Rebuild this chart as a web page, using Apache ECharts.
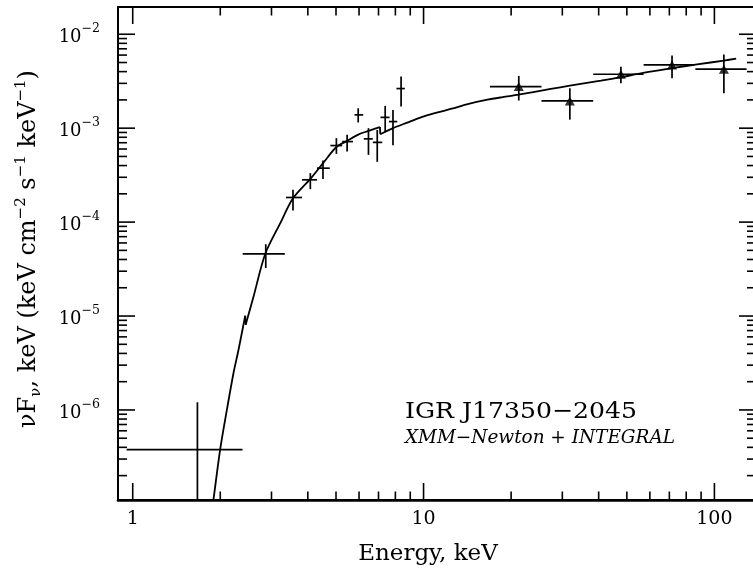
<!DOCTYPE html>
<html><head><meta charset="utf-8">
<script src="https://cdn.jsdelivr.net/npm/echarts@6/dist/echarts.min.js"></script>
<style>html,body{margin:0;padding:0;background:#fff}#c{width:753px;height:569px}</style>
</head><body><div id="c"></div>
<script>
// ---- XMM-Newton spectral points (energy keV, nuFnu, bin edges, error limits)
const xmmE   = [1.669, 2.867, 3.557, 4.08, 4.51, 5.015, 5.46, 5.96, 6.465, 6.93, 7.38, 7.85, 8.37];
const xmmElo = [0.953, 2.388, 3.365, 3.82, 4.30, 4.78, 5.25, 5.79, 6.23, 6.69, 7.11, 7.60, 8.07];
const xmmEhi = [2.385, 3.334, 3.82, 4.30, 4.76, 5.25, 5.72, 6.20, 6.69, 7.21, 7.64, 8.12, 8.62];
const xmmF   = [3.78e-7, 4.60e-5, 1.828e-4, 2.82e-4, 3.75e-4, 6.53e-4, 7.20e-4, 1.385e-3, 7.69e-4, 7.06e-4, 1.303e-3, 1.175e-3, 2.64e-3];
const xmmFlo = [1e-9, 3.24e-5, 1.33e-4, 2.24e-4, 2.87e-4, 5.33e-4, 5.64e-4, 1.15e-3, 5.2e-4, 4.38e-4, 9.02e-4, 6.59e-4, 1.70e-3];
const xmmFhi = [1.205e-6, 5.81e-5, 2.21e-4, 3.32e-4, 4.52e-4, 7.83e-4, 8.49e-4, 1.63e-3, 1.0e-3, 9.59e-4, 1.726e-3, 1.566e-3, 3.54e-3];

// ---- INTEGRAL spectral points
const intE   = [21.25, 31.84, 47.7, 71.5, 107.8];
const intElo = [16.92, 25.44, 38.3, 57.1, 86.0];
const intEhi = [25.44, 38.3, 57.1, 85.3, 129];
const intF   = [2.77e-3, 1.95e-3, 3.75e-3, 4.71e-3, 4.25e-3];
const intFlo = [1.97e-3, 1.233e-3, 3.01e-3, 3.40e-3, 2.36e-3];
const intFhi = [3.60e-3, 2.66e-3, 4.52e-3, 5.95e-3, 6.1e-3];

// ---- model curve (absorption edges near 2.44 and 7.1 keV)
const modelE = [1.855, 1.895, 1.998, 2.108, 2.221, 2.311, 2.437, 2.445, 2.603, 2.856, 3.217, 3.557, 4.081, 4.535, 5.015, 5.461, 5.985, 6.397, 7.08, 7.10, 7.82, 8.788, 9.843, 11.09, 12.49, 14.29, 16.58, 18.72, 21.2, 27.38, 31.84, 40.7, 47.7, 56.8, 71.5, 87.2, 107.8, 118.8];
const modelF = [6.8e-8, 1.11e-7, 3.78e-7, 1.007e-6, 2.475e-6, 4.38e-6, 1.007e-5, 8.08e-6, 1.616e-5, 4.60e-5, 9.76e-5, 1.791e-4, 2.888e-4, 4.326e-4, 6.30e-4, 7.33e-4, 8.59e-4, 9.25e-4, 1.025e-3, 8.63e-4, 9.95e-4, 1.147e-3, 1.312e-3, 1.462e-3, 1.612e-3, 1.813e-3, 2.01e-3, 2.142e-3, 2.272e-3, 2.619e-3, 2.832e-3, 3.201e-3, 3.488e-3, 3.88e-3, 4.36e-3, 4.77e-3, 5.25e-3, 5.49e-3];

// ---- axes and ticks
const xRange = [0.89, 139];
const yRange = [1.1e-7, 1.95e-2];
const xMajorTicks = [1, 10, 100];
const xMinorTicks = [2, 3, 4, 5, 6, 7, 8, 9, 20, 30, 40, 50, 60, 70, 80, 90];
const yMajorTicks = [1e-6, 1e-5, 1e-4, 1e-3, 1e-2];
const yMinorTicks = [2e-7,3e-7,4e-7,5e-7,6e-7,7e-7,8e-7,9e-7, 2e-6,3e-6,4e-6,5e-6,6e-6,7e-6,8e-6,9e-6, 2e-5,3e-5,4e-5,5e-5,6e-5,7e-5,8e-5,9e-5, 2e-4,3e-4,4e-4,5e-4,6e-4,7e-4,8e-4,9e-4, 2e-3,3e-3,4e-3,5e-3,6e-3,7e-3,8e-3,9e-3];
const xTickLabels = {1: '1', 10: '10', 100: '100'};
const yTickExponents = {'-6': '−6', '-5': '−5', '-4': '−4', '-3': '−3', '-2': '−2'};

const texts = {
  xName: 'Energy, keV',
  yName: 'νF{sub|ν}, keV (keV cm{sup|−2} s{sup|−1} keV{sup|−1})',
  source: 'IGR J17350−2045',
  instruments: 'XMM−Newton + INTEGRAL'
};

const FONT = '"DejaVu Serif", "Liberation Serif", serif';
const INK = '#000';

function measure(font, text) {
  const ctx = document.createElement('canvas').getContext('2d');
  ctx.font = font;
  return ctx.measureText(text).width;
}

function xTickRender(len) {
  return function (params, api) {
    const p = api.coord([api.value(0), api.value(1)]);
    const cs = params.coordSys;
    const top = cs.y, bot = cs.y + cs.height;
    const st = {stroke: INK, lineWidth: 1.6};
    return {type: 'group', children: [
      {type: 'line', shape: {x1: p[0], y1: bot, x2: p[0], y2: bot - len}, style: st},
      {type: 'line', shape: {x1: p[0], y1: top, x2: p[0], y2: top + len}, style: st}
    ]};
  };
}
function yTickRender(len) {
  return function (params, api) {
    const p = api.coord([api.value(0), api.value(1)]);
    const cs = params.coordSys;
    const l = cs.x, r = cs.x + cs.width;
    const st = {stroke: INK, lineWidth: 1.6};
    return {type: 'group', children: [
      {type: 'line', shape: {x1: l, y1: p[1], x2: l + len, y2: p[1]}, style: st},
      {type: 'line', shape: {x1: r, y1: p[1], x2: r - len, y2: p[1]}, style: st}
    ]};
  };
}
function errRender(params, api) {
  const e = api.value(0), f = api.value(1);
  const l = api.coord([api.value(2), f]);
  const r = api.coord([api.value(3), f]);
  const b = api.coord([e, api.value(4)]);
  const t = api.coord([e, api.value(5)]);
  const st = {stroke: INK, lineWidth: 1.7};
  return {type: 'group', children: [
    {type: 'line', shape: {x1: l[0], y1: l[1], x2: r[0], y2: r[1]}, style: st},
    {type: 'line', shape: {x1: b[0], y1: b[1], x2: t[0], y2: t[1]}, style: st}
  ]};
}

const xmmData = xmmE.map((e, i) => [e, xmmF[i], xmmElo[i], xmmEhi[i], xmmFlo[i], xmmFhi[i]]);
const intData = intE.map((e, i) => [e, intF[i], intElo[i], intEhi[i], intFlo[i], intFhi[i]]);

// split model into continuous pieces at the edges (jumps between almost equal energies)
const modelSegs = [[]];
const modelDrops = [];
modelE.forEach((e, i) => {
  if (i > 0 && e / modelE[i - 1] < 1.01) {
    modelDrops.push([[modelE[i - 1], modelF[i - 1]], [e, modelF[i]]]);
    modelSegs.push([]);
  }
  modelSegs[modelSegs.length - 1].push([e, modelF[i]]);
});
const modelSeries = modelSegs.map(d => ({
  type: 'line', name: 'model', data: d, showSymbol: false, symbol: 'none', clip: true,
  smooth: 0.3, lineStyle: {color: INK, width: 1.8}, z: 3
})).concat(modelDrops.map(d => ({
  type: 'line', name: 'model edge', data: d, showSymbol: false, symbol: 'none', clip: true,
  lineStyle: {color: INK, width: 1.8}, z: 3
})));

const font1 = '23px ' + FONT;
const font2 = 'italic 18px ' + FONT;
const s1 = 232 / measure(font1, texts.source);
const s2 = 270 / measure(font2, texts.instruments);

const chart = echarts.init(document.getElementById('c'), null, {renderer: 'canvas'});
chart.setOption({
  animation: false,
  backgroundColor: '#fff',
  grid: {left: 118, right: -3, top: 7, bottom: 69, outerBoundsMode: 'none', containLabel: false,
         show: true, borderColor: INK, borderWidth: 2, backgroundColor: 'transparent'},
  xAxis: {
    type: 'log', logBase: 10, min: xRange[0], max: xRange[1],
    axisLine: {show: true, lineStyle: {color: INK, width: 2.7}},
    axisTick: {show: false}, splitLine: {show: false}, minorTick: {show: false},
    axisLabel: {
      margin: 10, color: INK, fontFamily: FONT, fontSize: 19,
      formatter: v => { const k = Math.round(v); return (Math.abs(v - k) < 1e-6 && xTickLabels[k]) ? xTickLabels[k] : ''; }
    },
    name: texts.xName, nameLocation: 'middle', nameGap: 43,
    nameTextStyle: {color: INK, fontFamily: FONT, fontSize: 23, lineHeight: 23, padding: [0, 18, 0, 0]}
  },
  yAxis: {
    type: 'log', logBase: 10, min: yRange[0], max: yRange[1],
    axisLine: {show: false}, axisTick: {show: false}, splitLine: {show: false}, minorTick: {show: false},
    axisLabel: {
      margin: 18, color: INK,
      formatter: v => {
        const l = Math.log10(v), k = Math.round(l);
        if (Math.abs(l - k) > 1e-6 || !yTickExponents[String(k)]) return '';
        return '{b|10}{s|' + yTickExponents[String(k)] + '}';
      },
      rich: {
        b: {fontFamily: FONT, fontSize: 18, lineHeight: 24, verticalAlign: 'bottom', color: INK},
        s: {fontFamily: FONT, fontSize: 12.5, lineHeight: 18, verticalAlign: 'top', color: INK}
      }
    },
    name: texts.yName,
    nameLocation: 'middle', nameGap: 74, nameRotate: 90,
    nameTextStyle: {
      color: INK, fontFamily: FONT, fontSize: 24, lineHeight: 30, padding: [0, 0, 0, 9],
      rich: {
        sub: {fontFamily: FONT, fontSize: 15, lineHeight: 15, verticalAlign: 'bottom', color: INK},
        sup: {fontFamily: FONT, fontSize: 15, lineHeight: 15, verticalAlign: 'top', color: INK}
      }
    }
  },
  series: [
    {type: 'custom', name: 'xMajor', data: xMajorTicks.map(v => [v, yRange[0]]), renderItem: xTickRender(17), silent: true, z: 5},
    {type: 'custom', name: 'xMinor', data: xMinorTicks.map(v => [v, yRange[0]]), renderItem: xTickRender(8.5), silent: true, z: 5},
    {type: 'custom', name: 'yMajor', data: yMajorTicks.map(v => [xRange[0], v]), renderItem: yTickRender(17), silent: true, z: 5},
    {type: 'custom', name: 'yMinor', data: yMinorTicks.map(v => [xRange[0], v]), renderItem: yTickRender(9), silent: true, z: 5},
    {type: 'custom', name: 'XMM-Newton', data: xmmData, renderItem: errRender, clip: true, encode: {x: 0, y: 1}, z: 4},
    {type: 'custom', name: 'INTEGRAL', data: intData, renderItem: errRender, clip: true, encode: {x: 0, y: 1}, z: 4},
    {type: 'scatter', name: 'INTEGRAL pts', data: intData.map(d => [d[0], d[1]]), symbol: 'triangle', symbolSize: [10, 9],
     itemStyle: {color: INK}, z: 6}
  ].concat(modelSeries),
  graphic: [
    {type: 'text', x: 405, y: 411.7, scaleX: s1, silent: true,
     style: {text: texts.source, font: font1, fill: INK, align: 'left', verticalAlign: 'middle', textAlign: 'left', textVerticalAlign: 'middle'}},
    {type: 'text', x: 405, y: 438.3, scaleX: s2, silent: true,
     style: {text: texts.instruments, font: font2, fill: INK, align: 'left', verticalAlign: 'middle', textAlign: 'left', textVerticalAlign: 'middle'}}
  ]
});
</script></body></html>
